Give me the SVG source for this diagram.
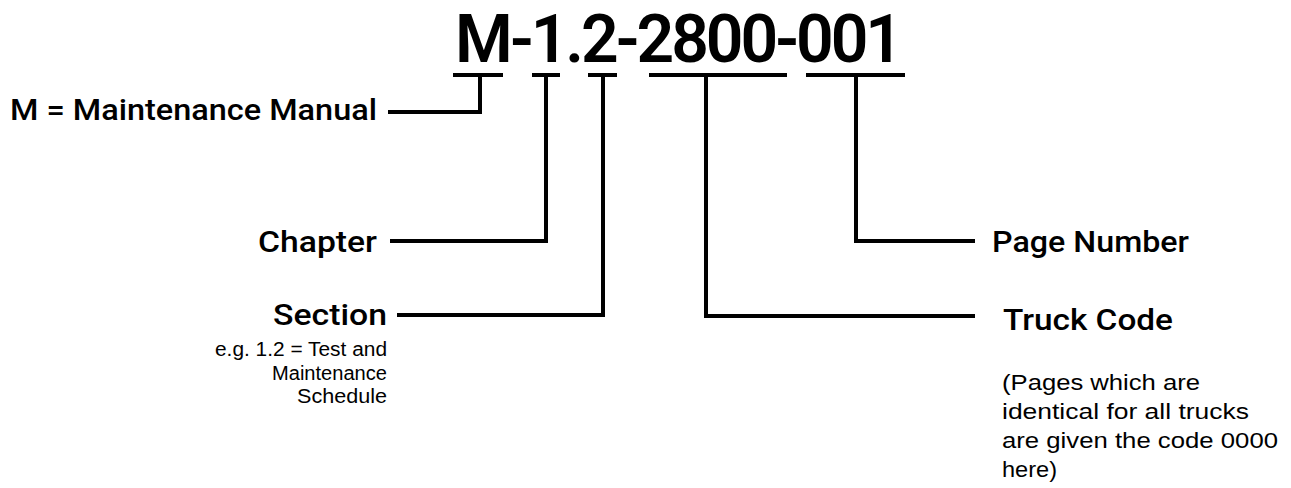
<svg xmlns="http://www.w3.org/2000/svg" width="1291" height="488" viewBox="0 0 1291 488">
<style>
.title{font-family:Roboto,"Liberation Sans",sans-serif;font-weight:600;font-size:66px;fill:#000}
.lbl{font-family:Roboto,"Liberation Sans",Arial,sans-serif;font-weight:500;font-size:30px;fill:#000}
.note{font-family:"Liberation Sans",Arial,sans-serif;font-size:20px;fill:#000}
.note2{font-family:"Liberation Sans",Arial,sans-serif;font-size:22px;fill:#000}
.ln{fill:none;stroke:#000;stroke-width:4;stroke-linejoin:miter;stroke-linecap:butt}
</style>
<rect width="1291" height="488" fill="#fff"/>
<g id="title"><text class="title" x="455" y="62" textLength="448" lengthAdjust="spacing">M-1.2-2800-001</text></g>
<g id="connectors">
<path class="ln" d="M453,75 H503 M480,75 V112 H388"/>
<path class="ln" d="M532,75 H560 M546,75 V241 H390"/>
<path class="ln" d="M588,75 H617 M603,75 V315 H397"/>
<path class="ln" d="M649,75 H787 M706,75 V316 H975"/>
<path class="ln" d="M806,75 H905 M856,75 V241 H975"/>
</g>
<g id="node-manual"><text class="lbl" x="377" y="120" text-anchor="end" textLength="367" lengthAdjust="spacingAndGlyphs">M = Maintenance Manual</text></g>
<g id="node-chapter"><text class="lbl" x="377" y="252" text-anchor="end" textLength="119" lengthAdjust="spacingAndGlyphs">Chapter</text></g>
<g id="node-section">
<text class="lbl" x="387" y="325" text-anchor="end" textLength="114" lengthAdjust="spacingAndGlyphs">Section</text>
<text class="note" x="387" y="356" text-anchor="end" textLength="172" lengthAdjust="spacingAndGlyphs">e.g. 1.2 = Test and</text>
<text class="note" x="387" y="380" text-anchor="end" textLength="115" lengthAdjust="spacingAndGlyphs">Maintenance</text>
<text class="note" x="387" y="403" text-anchor="end" textLength="90" lengthAdjust="spacingAndGlyphs">Schedule</text>
</g>
<g id="node-page"><text class="lbl" x="992" y="252" textLength="197" lengthAdjust="spacingAndGlyphs">Page Number</text></g>
<g id="node-truck">
<text class="lbl" x="1003" y="330" textLength="170" lengthAdjust="spacingAndGlyphs">Truck Code</text>
<text class="note2" x="1002" y="390" textLength="198" lengthAdjust="spacingAndGlyphs">(Pages which are</text>
<text class="note2" x="1002" y="419" textLength="247" lengthAdjust="spacingAndGlyphs">identical for all trucks</text>
<text class="note2" x="1002" y="448" textLength="276" lengthAdjust="spacingAndGlyphs">are given the code 0000</text>
<text class="note2" x="1002" y="477" textLength="55" lengthAdjust="spacingAndGlyphs">here)</text>
</g>
</svg>
